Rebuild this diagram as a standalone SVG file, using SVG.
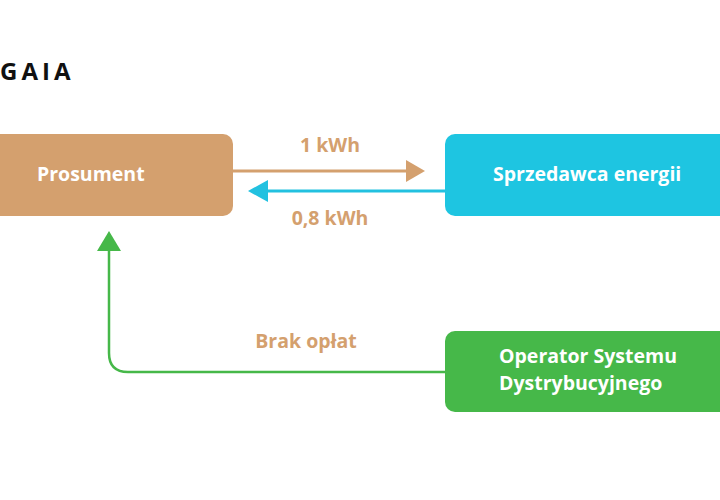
<svg xmlns="http://www.w3.org/2000/svg" width="720" height="500" viewBox="0 0 720 500">
<style>
text{font-family:"Open Sans","Liberation Sans",sans-serif;font-weight:700}
.n{fill:#fff;font-size:19.5px}
.l{fill:#d4a06e;font-size:19.5px}
</style>
<rect width="720" height="500" fill="#fff"/>
<text x="0" y="80" font-size="24" fill="#111" letter-spacing="4" font-family="Liberation Sans, sans-serif">GAIA</text>
<g id="connectors">
<line x1="233" y1="171" x2="408" y2="171" stroke="#d4a06e" stroke-width="3"/>
<polygon points="406,160 425,171 406,182" fill="#d4a06e"/>
<line x1="445" y1="191" x2="265" y2="191" stroke="#22c1e0" stroke-width="3"/>
<polygon points="268,180 248,191 268,202" fill="#22c1e0"/>
<path d="M445,372 H128 Q109,372 109,353 V248" fill="none" stroke="#46b849" stroke-width="2.5"/>
<polygon points="97,251 109,231 121,251" fill="#46b849"/>
<text class="l" x="330" y="152" text-anchor="middle">1 kWh</text>
<text class="l" x="330" y="225" text-anchor="middle">0,8 kWh</text>
<text class="l" x="306" y="348" text-anchor="middle">Brak opłat</text>
</g>
<g id="prosument"><rect x="-12" y="134" width="245" height="82" rx="10" fill="#d4a06e"/><text class="n" x="37" y="181">Prosument</text></g>
<g id="sprzedawca"><rect x="445" y="134" width="290" height="82" rx="10" fill="#1ec5e1"/><text class="n" x="493" y="181">Sprzedawca energii</text></g>
<g id="osd"><rect x="445" y="331" width="290" height="81" rx="10" fill="#46b849"/><text class="n" x="499" y="363">Operator Systemu</text><text class="n" x="499" y="390">Dystrybucyjnego</text></g>
</svg>
